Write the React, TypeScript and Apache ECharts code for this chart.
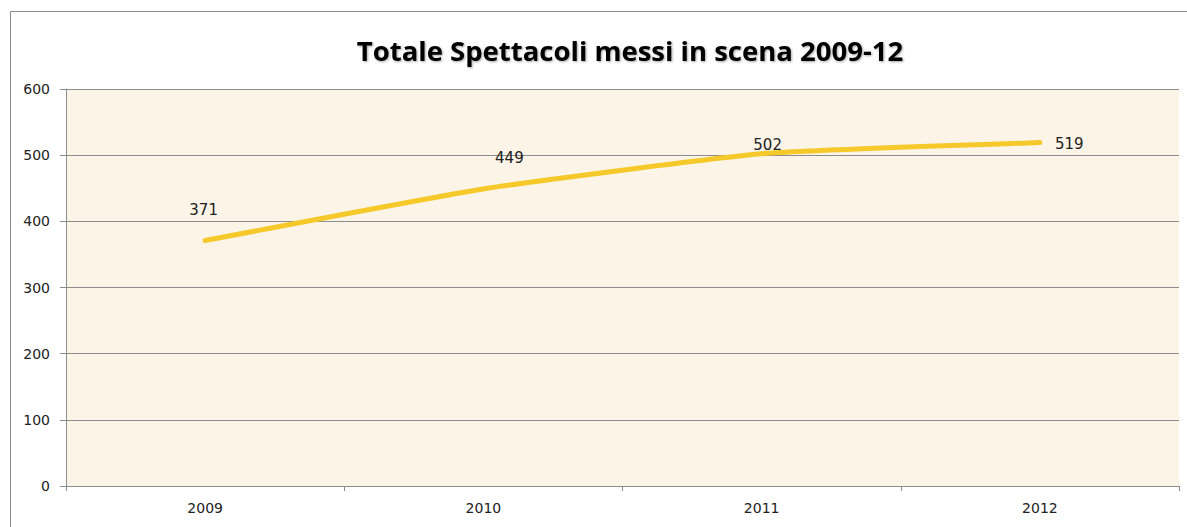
import React, { useEffect, useRef } from "react";
import * as echarts from "echarts";

const categories = ["2009", "2010", "2011", "2012"];
const values = [371, 449, 502, 519];
const yTicks = [0, 100, 200, 300, 400, 500, 600];
const title = "Totale Spettacoli messi in scena 2009-12";

export default function App() {
  const ref = useRef<HTMLDivElement>(null);
  useEffect(() => {
    if (!ref.current) return;
    const chart = echarts.init(ref.current, null, { renderer: "svg" });
    // label anchor relative to the (2px) symbol box top-left
    const labelPos: [number, number][] = [[-0.5, -29.5], [27, -30], [7, -8], [16, 2.5]];
    const labelAlign = ["center", "center", "center", "left"];
    chart.setOption({
      animation: false,
      backgroundColor: "#ffffff",
      title: {
        text: title,
        left: 625,
        top: 31,
        textAlign: "center",
        textStyle: {
          fontFamily: "Open Sans",
          fontWeight: "bold",
          fontSize: 27.5,
          color: "#000",
          textShadowColor: "rgba(0,0,0,0.35)",
          textShadowBlur: 2,
          textShadowOffsetX: 1,
          textShadowOffsetY: 1,
        },
      },
      graphic: [
        {
          type: "rect",
          shape: { x: 10.5, y: 11.5, width: 1300, height: 600 },
          style: { fill: "none", stroke: "#8a8a8a", lineWidth: 1 },
          silent: true,
          z: 0,
        },
      ],
      grid: {
        left: 66,
        right: 8,
        top: 89,
        bottom: 41,
        show: true,
        backgroundColor: "#FCF4E7",
        borderWidth: 0,
      },
      xAxis: {
        type: "category",
        data: categories,
        boundaryGap: true,
        axisLine: { show: true, lineStyle: { color: "#8c8c8c", width: 1 } },
        axisTick: { show: true, length: 5, lineStyle: { color: "#8c8c8c" } },
        axisLabel: {
          fontFamily: "DejaVu Sans",
          fontSize: 14,
          color: "#222",
          margin: 15,
        },
        splitLine: { show: false },
      },
      yAxis: {
        type: "value",
        min: 0,
        max: 600,
        interval: 100,
        axisLine: { show: true, lineStyle: { color: "#8c8c8c", width: 1 } },
        axisTick: { show: true, length: 6, lineStyle: { color: "#8c8c8c" } },
        axisLabel: {
          fontFamily: "DejaVu Sans",
          fontSize: 14,
          color: "#222",
          margin: 16,
          formatter: (v: number) => (yTicks.includes(v) ? String(v) : ""),
        },
        splitLine: { show: true, lineStyle: { color: "#8c8c8c", width: 1 } },
      },
      series: [
        {
          type: "line",
          data: values.map((v, i) => ({
            value: v,
            label: {
              show: true,
              position: labelPos[i],
              align: labelAlign[i],
              verticalAlign: "middle",
            },
          })),
          smooth: 0.15,
          symbol: "circle",
          symbolSize: 2,
          showSymbol: true,
          itemStyle: { color: "rgba(0,0,0,0)", borderWidth: 0 },
          lineStyle: { color: "#F5C92A", width: 5, cap: "round" },
          label: {
            show: true,
            fontFamily: "DejaVu Sans",
            fontSize: 15,
            color: "#222",
          },
          labelLayout: { hideOverlap: false },
        },
      ],
    });
    return () => chart.dispose();
  }, []);
  return (
    <div
      ref={ref}
      style={{ position: "fixed", left: 0, top: 0, width: 1187, height: 527 }}
    />
  );
}
